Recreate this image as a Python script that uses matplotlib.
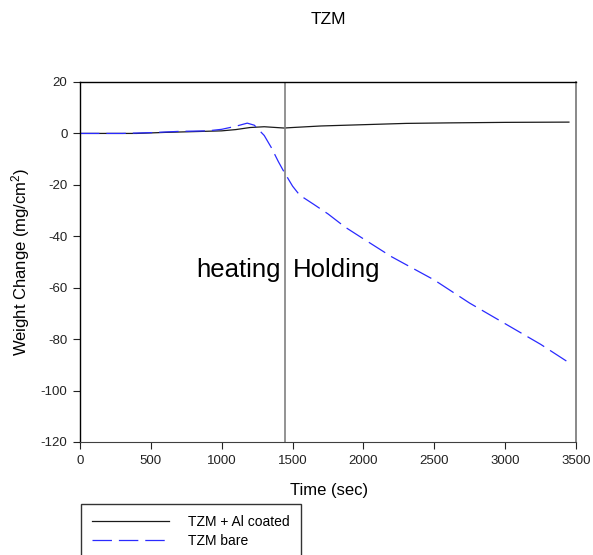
import matplotlib
matplotlib.use("Agg")
import matplotlib.pyplot as plt

plt.rcParams['font.family'] = ['Liberation Sans', 'DejaVu Sans']
plt.rcParams['lines.scale_dashes'] = False
plt.rcParams['axes.unicode_minus'] = False
plt.rcParams['mathtext.fontset'] = 'custom'
plt.rcParams['mathtext.rm'] = 'Liberation Sans'
plt.rcParams['mathtext.it'] = 'Liberation Sans'
plt.rcParams['mathtext.default'] = 'regular'

title = "TZM"
xlabel = "Time (sec)"
ylabel = "Weight Change (mg/cm$^2$)"

coated_time = [0, 200, 400, 500, 600, 800, 1000, 1100, 1200, 1300, 1440, 1500, 1700, 2000, 2300, 2600, 3000, 3450]
coated_val = [0, 0, 0, 0.2, 0.4, 0.7, 1.0, 1.5, 2.3, 2.6, 2.1, 2.3, 2.9, 3.4, 3.9, 4.1, 4.3, 4.4]

bare_time = [0, 300, 500, 700, 900, 1000, 1100, 1180, 1230, 1300, 1350, 1400, 1435, 1500, 1550, 1650,
             1750, 1870, 2000, 2200, 2500, 2750, 3000, 3250, 3460]
bare_val = [0, 0, 0.3, 0.8, 1.0, 1.6, 2.8, 4.0, 3.2, -0.8, -5.5, -11, -14.5, -20.5, -24, -27.6,
            -31.3, -36.4, -41, -48, -57, -66, -74, -82, -89.5]

divider_time = 1445
xticks = [0, 500, 1000, 1500, 2000, 2500, 3000, 3500]
yticks = [20, 0, -20, -40, -60, -80, -100, -120]

W, H = 593, 555
fig = plt.figure(figsize=(W / 100, H / 100), dpi=100)
ax = fig.add_axes([80 / W, 1 - 442 / H, (576 - 80) / W, (442 - 82) / H])

l1, = ax.plot(coated_time, coated_val, color='#1a1a1a', lw=0.9, label='TZM + Al coated')
l2, = ax.plot(bare_time, bare_val, color='#2a2aff', lw=0.9, dashes=(14, 5), label='TZM bare')
ax.axvline(divider_time, color='#808080', lw=1.2)

ax.set_xlim(0, 3500)
ax.set_ylim(-120, 20)
ax.set_xticks(xticks)
ax.set_yticks(yticks)
ax.tick_params(direction='out', length=5, width=0.8, labelsize=9.5, pad=4, colors='#222222')
for s in ['left', 'top']:
    ax.spines[s].set_color('black')
    ax.spines[s].set_linewidth(1.0)
ax.spines['bottom'].set_color('#404040')
ax.spines['right'].set_color('#808080')
ax.spines['right'].set_linewidth(1.3)

fig.text(329 / W, 1 - 490 / H, xlabel, ha='center', va='center', fontsize=12)
fig.text(21 / W, 1 - 262 / H, ylabel, ha='center', va='center', rotation=90, fontsize=12)
fig.text(328 / W, 1 - 19 / H, title, ha='center', va='center', fontsize=12.5)

ax.text(divider_time - 30, -53, "heating", ha='right', va='center', fontsize=18.5)
ax.text(divider_time + 55, -53, "Holding", ha='left', va='center', fontsize=18.5)

leg = fig.legend(handles=[l1, l2], loc='upper left', bbox_to_anchor=(81 / W, 1 - 504 / H),
                 borderaxespad=0, frameon=True, fancybox=False, edgecolor='black',
                 fontsize=10, handlelength=5.5, handletextpad=1.4, borderpad=0.8,
                 labelspacing=0.35)
leg.get_frame().set_linewidth(1.0)

fig.savefig("out.png", dpi=100)
